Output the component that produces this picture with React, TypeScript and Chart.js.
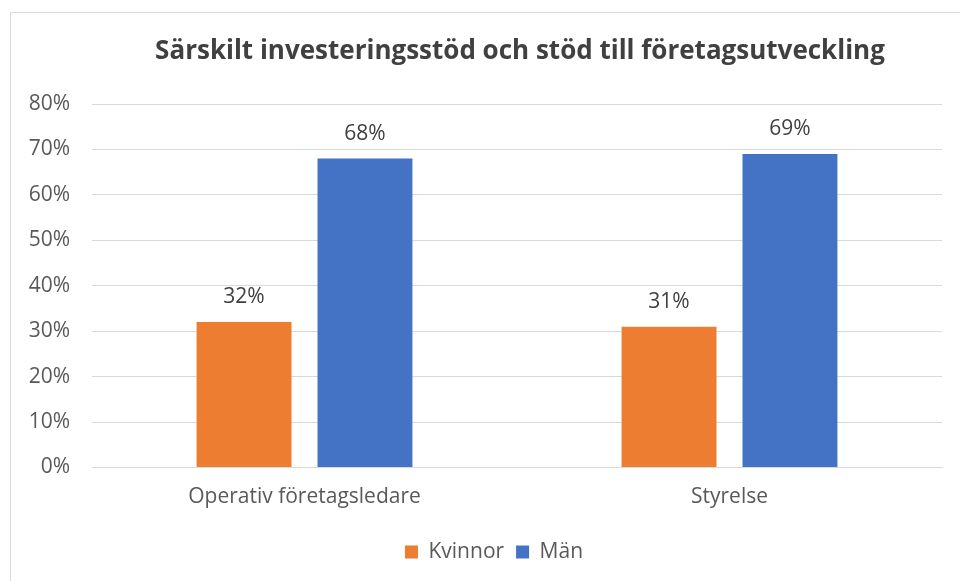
import React, { useEffect, useRef } from "react";
import { Chart, registerables } from "chart.js";

Chart.register(...registerables);

const categories = ["Operativ företagsledare", "Styrelse"];
const kvinnor = [32, 31];
const man = [68, 69];
const seriesNames = ["Kvinnor", "Män"];
const titleText = "Särskilt investeringsstöd och stöd till företagsutveckling";
const FONT = "'Open Sans', 'Liberation Sans', sans-serif";

const valueLabels = {
  id: "valueLabels",
  afterDatasetsDraw(chart: any) {
    const ctx = chart.ctx;
    ctx.save();
    ctx.font = `21px ${FONT}`;
    ctx.fillStyle = "#404040";
    ctx.textAlign = "center";
    ctx.textBaseline = "middle";
    chart.data.datasets.forEach((ds: any, i: number) => {
      const meta = chart.getDatasetMeta(i);
      meta.data.forEach((bar: any, j: number) => {
        ctx.fillText(`${ds.data[j]}%`, bar.x, bar.y - 25);
      });
    });
    ctx.restore();
  },
};

const centeredTitle = {
  id: "centeredTitle",
  afterDraw(chart: any) {
    const ctx = chart.ctx;
    const area = chart.chartArea;
    ctx.save();
    ctx.font = `bold 26px ${FONT}`;
    ctx.fillStyle = "#404040";
    ctx.textAlign = "center";
    ctx.textBaseline = "middle";
    ctx.fillText(titleText, (area.left + area.right) / 2 + 3, 52);
    ctx.restore();
  },
};

const shiftLegend = {
  id: "shiftLegend",
  afterLayout(chart: any) {
    const lg = chart.legend;
    if (lg) {
      lg.left += 23;
      lg.right += 23;
    }
  },
};

export default function App() {
  const ref = useRef<HTMLCanvasElement>(null);
  useEffect(() => {
    const chart = new Chart(ref.current!, {
      type: "bar",
      data: {
        labels: categories,
        datasets: [
          { label: seriesNames[0], data: kvinnor, backgroundColor: "#ED7D31" },
          { label: seriesNames[1], data: man, backgroundColor: "#4472C4" },
        ],
      },
      options: {
        animation: false,
        responsive: false,
        devicePixelRatio: 1,
        layout: { padding: { left: 0, right: 18, top: 104, bottom: 8.5 } },
        datasets: { bar: { categoryPercentage: 0.569, barPercentage: 0.785 } } as any,
        plugins: {
          title: { display: false },
          legend: {
            position: "bottom",
            labels: {
              color: "#595959",
              font: { family: FONT, size: 21 },
              boxWidth: 13,
              boxHeight: 13,
              padding: 12,
            },
          },
          tooltip: { enabled: false },
        },
        scales: {
          x: {
            grid: { display: false },
            border: { display: true, color: "#d9d9d9" },
            ticks: { color: "#595959", font: { family: FONT, size: 21 }, padding: 9 },
            afterFit: (s: any) => {
              s.height = 62;
            },
          },
          y: {
            min: 0,
            max: 80,
            ticks: {
              stepSize: 10,
              color: "#595959",
              font: { family: FONT, size: 21 },
              padding: 22,
              callback: (v: any) => `${v}%`,
            },
            grid: { color: "#d9d9d9", drawTicks: false },
            border: { display: false },
            afterFit: (s: any) => {
              s.width = 92;
            },
          },
        },
      },
      plugins: [valueLabels, centeredTitle, shiftLegend],
    });
    return () => chart.destroy();
  }, []);
  return (
    <div style={{ position: "fixed", left: 0, top: 0, width: 960, height: 581, background: "#fff" }}>
      <div
        style={{
          position: "absolute",
          left: 10,
          top: 12,
          width: 960,
          height: 600,
          border: "1px solid #d9d9d9",
        }}
      />
      <canvas ref={ref} width={960} height={581} style={{ position: "absolute", left: 0, top: 0 }} />
    </div>
  );
}
